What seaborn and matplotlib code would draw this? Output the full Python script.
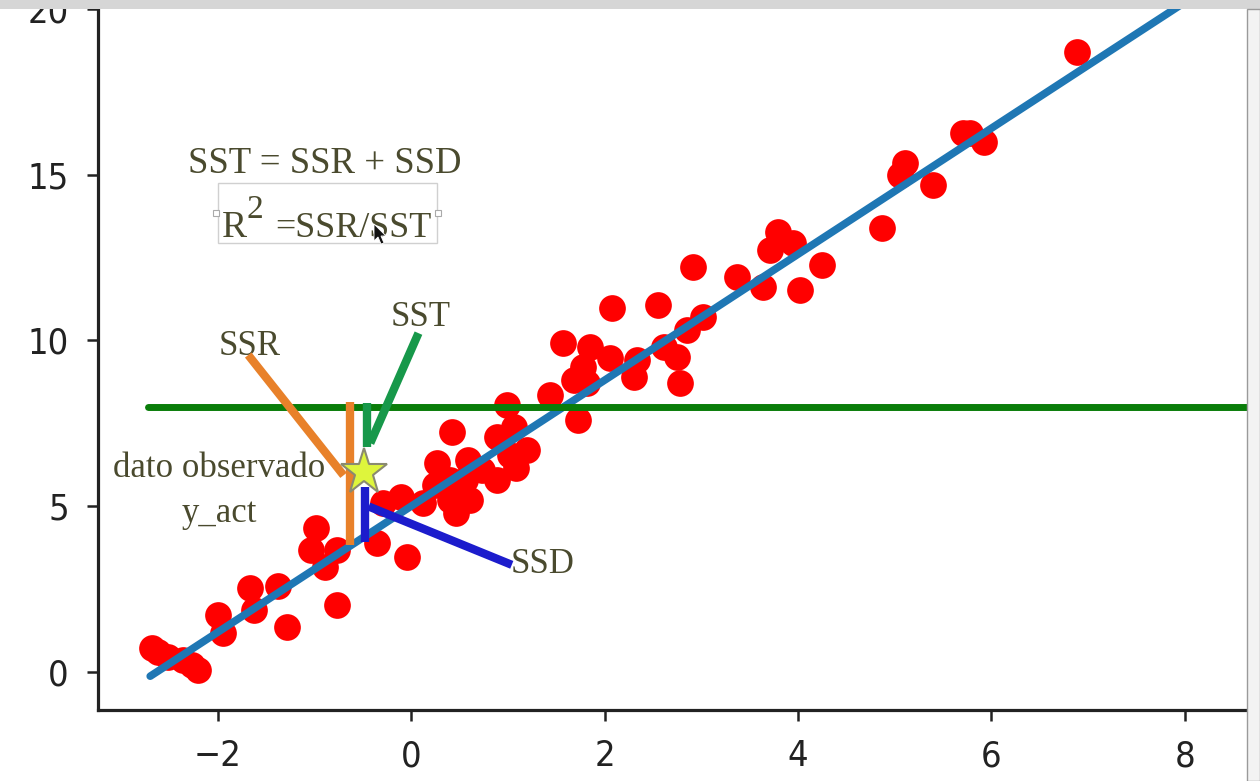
import matplotlib
matplotlib.use("Agg")
import matplotlib.pyplot as plt
import matplotlib.patches as patches
import pandas as pd
import seaborn as sns

x_obs = [-2.68, -2.62, -2.52, -2.36, -2.27, -2.21, -2.0, -1.95, -1.67, -1.63,
         -1.38, -1.28, -0.99, -1.04, -0.77, -0.89, -0.77, -0.35, -0.04, -0.29,
         -0.11, 0.12, 0.4, 0.46, 0.56, 0.89, 0.27, 0.59, 0.42, 0.89,
         1.06, 1.2, 0.99, 1.02, 1.44, 1.72, 1.82, 1.57, 1.85, 2.06,
         1.78, 2.08, 2.55, 2.34, 2.3, 2.61, 2.75, 2.78, 2.85, 3.02,
         2.91, 3.37, 3.64, 3.71, 3.79, 3.95, 4.25, 4.02, 4.87, 5.11,
         5.06, 5.4, 5.71, 5.92, 6.89, 0.4, 1.68, 5.78, 0.73, 1.08,
         0.61, 0.25]
y_act = [0.72, 0.60, 0.45, 0.36, 0.21, 0.06, 1.72, 1.18, 2.53, 1.87,
         2.59, 1.36, 4.34, 3.68, 3.68, 3.17, 2.02, 3.89, 3.47, 5.10,
         5.28, 5.10, 5.19, 4.80, 5.79, 5.79, 6.31, 6.40, 7.24, 7.09,
         7.39, 6.70, 8.05, 6.55, 8.36, 7.60, 8.72, 9.93, 9.80, 9.47,
         9.20, 10.98, 11.07, 9.41, 8.90, 9.80, 9.50, 8.72, 10.32, 10.71,
         12.22, 11.92, 11.61, 12.73, 13.27, 12.94, 12.28, 11.52, 13.39, 15.35,
         14.99, 14.69, 16.26, 15.99, 18.70, 5.79, 8.81, 16.26, 6.09, 6.15,
         5.19, 5.64]

# regression line y_pred and mean of y_act
fit_x = [-2.7, 8.1]
fit_y = [-0.13, 20.39]
mean_x = [-2.72, 8.7]
mean_y = [8.0, 8.0]

# hand drawn marks around the chosen point
star_x, star_y = -0.486, 6.03
ssr_x = [-0.63, -0.63]
ssr_y = [3.83, 8.15]
ssr_ptr_x = [-1.686, -0.70]
ssr_ptr_y = [9.56, 5.93]
sst_x = [-0.455, -0.455]
sst_y = [8.12, 6.79]
sst_ptr_x = [0.075, -0.424]
sst_ptr_y = [10.22, 6.90]
ssd_x = [-0.476, -0.476]
ssd_y = [5.59, 3.93]
ssd_ptr_x = [-0.44, 1.04]
ssd_ptr_y = [4.99, 3.23]

x_ticks = [-2, 0, 2, 4, 6, 8]
y_ticks = [0, 5, 10, 15, 20]

sns.set_style("ticks")
plt.rcParams['font.family'] = ['DejaVu Sans']

W, H = 1260, 781
fig = plt.figure(figsize=(W / 100, H / 100), dpi=100)
ax = fig.add_axes([98 / W, 71 / H, 1148.5 / W, 747.4 / H])

df = pd.DataFrame({"x": x_obs, "y": y_act})
sns.scatterplot(data=df, x="x", y="y", color="#ff0000", s=370, linewidth=0, ax=ax, zorder=2)
sns.lineplot(x=fit_x, y=fit_y, color="#1f77b4", lw=5.5, ax=ax, zorder=3)
ax.plot(mean_x, mean_y, color="#0a7d0a", lw=5, zorder=4)

ax.set_xlim(-3.24, 8.64)
ax.set_ylim(-1.15, 21.4)
ax.set_xticks(x_ticks)
ax.set_yticks(y_ticks)
ax.set_xticklabels([str(t).replace("-", "\u2212") for t in x_ticks])
ax.set_xlabel("")
ax.set_ylabel("")
ax.tick_params(labelsize=26, length=8, width=1.8, pad=13, colors="#222222")
for lab in ax.get_xticklabels() + ax.get_yticklabels():
    lab.set_fontstretch("condensed")
for s in ["left", "bottom"]:
    ax.spines[s].set_linewidth(2.3)
    ax.spines[s].set_color("#222222")
ax.spines["top"].set_visible(False)
ax.spines["right"].set_visible(False)

# annotations
ax.plot(ssr_x, ssr_y, color="#e8812a", lw=6, solid_capstyle="butt", zorder=5)
ax.plot(ssr_ptr_x, ssr_ptr_y, color="#e8812a", lw=6, solid_capstyle="butt", zorder=5)
ax.plot(sst_x, sst_y, color="#17984a", lw=6, solid_capstyle="butt", zorder=5)
ax.plot(sst_ptr_x, sst_ptr_y, color="#17984a", lw=6, solid_capstyle="butt", zorder=5)
ax.plot(ssd_x, ssd_y, color="#1c1ccc", lw=6, solid_capstyle="butt", zorder=5)
ax.plot(ssd_ptr_x, ssd_ptr_y, color="#1c1ccc", lw=6, solid_capstyle="butt", zorder=5)
ax.plot([star_x], [star_y], marker="*", markersize=35, color="#def53c",
        markeredgecolor="#8a8a70", markeredgewidth=1.5, zorder=6)

tc = "#4a4a2e"
serif = ["Liberation Serif", "DejaVu Serif"]
ax.text(-0.89, 15.05, "SST = SSR + SSD", fontsize=26.5, color=tc, family=serif, ha="center", va="baseline")
ax.text(-1.957, 13.12, "R", fontsize=27, color=tc, family=serif, ha="left", va="baseline")
ax.text(-1.70, 13.70, "2", fontsize=24, color=tc, family=serif, ha="left", va="baseline")
ax.text(-1.409, 13.12, "=SSR/SST", fontsize=26, color=tc, family=serif, ha="left", va="baseline")
ax.text(-1.675, 9.56, "SSR", fontsize=25, color=tc, family=serif, ha="center", va="baseline")
ax.text(0.093, 10.44, "SST", fontsize=25, color=tc, family=serif, ha="center", va="baseline")
ax.text(-1.985, 5.89, "dato observado", fontsize=25, color=tc, family=serif, ha="center", va="baseline")
ax.text(-1.985, 4.53, "y_act", fontsize=25, color=tc, family=serif, ha="center", va="baseline")
ax.text(1.031, 2.99, "SSD", fontsize=25, color=tc, family=serif, ha="left", va="baseline")

# text box with handles around R^2
fig.add_artist(patches.Rectangle((218 / W, 1 - 243 / H), 219 / W, 60 / H, transform=fig.transFigure,
                                 fill=False, edgecolor="#d0d0d0", lw=1))
for hx in [216, 438]:
    fig.add_artist(patches.Rectangle(((hx - 3) / W, 1 - 216 / H), 6 / W, 6 / H, transform=fig.transFigure,
                                     facecolor="white", edgecolor="#aaaaaa", lw=0.8, zorder=10))

# mouse pointer over the box
cur = [(374, 224), (374, 241), (378, 237), (381, 244), (384, 243), (381, 236), (386, 236)]
fig.add_artist(patches.Polygon([(px / W, 1 - py / H) for px, py in cur], closed=True,
                               transform=fig.transFigure, facecolor="#111111",
                               edgecolor="white", lw=0.6, zorder=11))

# editor chrome: top bar and right panel
fig.add_artist(patches.Rectangle((0, 1 - 9 / H), 1, 9 / H, transform=fig.transFigure,
                                 facecolor="#d6d6d6", edgecolor="none", zorder=20))
fig.add_artist(patches.Rectangle((1247 / W, 0), 13 / W, 1 - 9 / H, transform=fig.transFigure,
                                 facecolor="#f3f3f3", edgecolor="#9a9a9a", lw=1, zorder=20))

fig.savefig("out.png", dpi=100)
